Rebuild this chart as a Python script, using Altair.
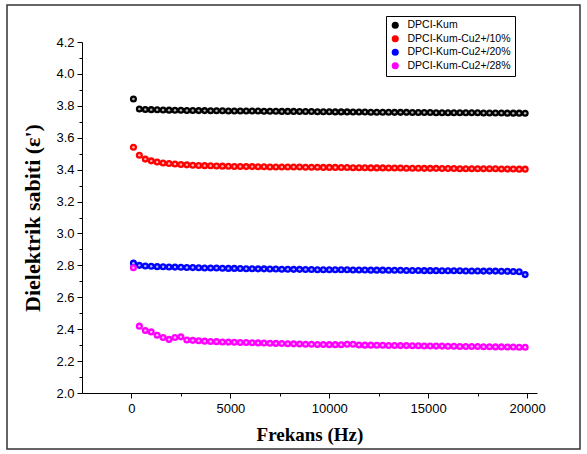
import altair as alt
import pandas as pd

series_names = ["DPCI-Kum", "DPCI-Kum-Cu2+/10%", "DPCI-Kum-Cu2+/20%", "DPCI-Kum-Cu2+/28%"]
series_colors = ["#000000", "#ff0000", "#0000ff", "#ff00ff"]

freq = [100, 400, 700, 1000, 1300, 1600, 1900, 2200, 2500, 2800,
        3100, 3400, 3700, 4000, 4300, 4600, 4900, 5200, 5500, 5800,
        6100, 6400, 6700, 7000, 7300, 7600, 7900, 8200, 8500, 8800,
        9100, 9400, 9700, 10000, 10300, 10600, 10900, 11200, 11500, 11800,
        12100, 12400, 12700, 13000, 13300, 13600, 13900, 14200, 14500, 14800,
        15100, 15400, 15700, 16000, 16300, 16600, 16900, 17200, 17500, 17800,
        18100, 18400, 18700, 19000, 19300, 19600, 19900]

kum = [3.843, 3.780, 3.777, 3.776, 3.775, 3.774, 3.773, 3.772, 3.772, 3.771,
       3.771, 3.770, 3.770, 3.769, 3.769, 3.769, 3.768, 3.768, 3.768, 3.767,
       3.767, 3.767, 3.766, 3.766, 3.766, 3.765, 3.765, 3.765, 3.764, 3.764,
       3.764, 3.763, 3.763, 3.763, 3.762, 3.762, 3.762, 3.761, 3.761, 3.761,
       3.760, 3.760, 3.760, 3.760, 3.759, 3.759, 3.759, 3.758, 3.758, 3.758,
       3.758, 3.757, 3.757, 3.757, 3.757, 3.756, 3.756, 3.756, 3.756, 3.755,
       3.755, 3.755, 3.755, 3.754, 3.754, 3.754, 3.753]

cu10 = [3.540, 3.490, 3.466, 3.455, 3.448, 3.442, 3.438, 3.435, 3.432, 3.430,
        3.428, 3.426, 3.425, 3.424, 3.423, 3.422, 3.421, 3.420, 3.420, 3.419,
        3.419, 3.418, 3.418, 3.417, 3.417, 3.417, 3.416, 3.416, 3.416, 3.415,
        3.415, 3.415, 3.414, 3.414, 3.414, 3.413, 3.413, 3.412, 3.412, 3.412,
        3.411, 3.411, 3.411, 3.410, 3.410, 3.410, 3.409, 3.409, 3.409, 3.408,
        3.408, 3.408, 3.407, 3.407, 3.407, 3.406, 3.406, 3.406, 3.405, 3.405,
        3.405, 3.405, 3.404, 3.404, 3.404, 3.403, 3.403]

cu20 = [2.814, 2.800, 2.796, 2.794, 2.792, 2.791, 2.790, 2.789, 2.788, 2.787,
        2.786, 2.785, 2.784, 2.783, 2.783, 2.782, 2.781, 2.781, 2.780, 2.779,
        2.779, 2.778, 2.778, 2.777, 2.777, 2.776, 2.776, 2.775, 2.775, 2.774,
        2.774, 2.773, 2.773, 2.773, 2.772, 2.772, 2.772, 2.771, 2.771, 2.771,
        2.770, 2.770, 2.770, 2.769, 2.769, 2.769, 2.768, 2.768, 2.768, 2.767,
        2.767, 2.767, 2.766, 2.766, 2.766, 2.766, 2.765, 2.765, 2.765, 2.764,
        2.764, 2.764, 2.763, 2.763, 2.762, 2.760, 2.742]

cu28 = [2.785, 2.419, 2.392, 2.383, 2.362, 2.348, 2.336, 2.348, 2.352, 2.332,
        2.330, 2.327, 2.325, 2.323, 2.322, 2.320, 2.319, 2.318, 2.317, 2.316,
        2.315, 2.314, 2.313, 2.312, 2.311, 2.310, 2.309, 2.308, 2.307, 2.306,
        2.305, 2.304, 2.304, 2.303, 2.303, 2.302, 2.306, 2.305, 2.301, 2.300,
        2.300, 2.299, 2.299, 2.298, 2.298, 2.297, 2.297, 2.296, 2.296, 2.295,
        2.295, 2.294, 2.294, 2.293, 2.293, 2.292, 2.292, 2.291, 2.291, 2.290,
        2.290, 2.289, 2.289, 2.288, 2.288, 2.287, 2.287]

x_ticks = [0, 2500, 5000, 7500, 10000, 12500, 15000, 17500, 20000]
y_ticks = [2.0, 2.1, 2.2, 2.3, 2.4, 2.5, 2.6, 2.7, 2.8, 2.9, 3.0, 3.1, 3.2,
           3.3, 3.4, 3.5, 3.6, 3.7, 3.8, 3.9, 4.0, 4.1, 4.2]

rows = []
for name, vals in zip(series_names, [kum, cu10, cu20, cu28]):
    for f, v in zip(freq, vals):
        rows.append({"series": name, "freq": f, "eps": v})
df = pd.DataFrame(rows)

xscale = alt.Scale(domain=[-2500, 20500], nice=False, zero=False)
yscale = alt.Scale(domain=[2.0, 4.2], nice=False, zero=False)

xaxis = alt.Axis(
    values=x_ticks,
    labelExpr="datum.value % 5000 == 0 ? format(datum.value, 'd') : ''",
    tickSize={"condition": {"test": "datum.value % 5000 == 0", "value": 5}, "value": 3},
    labelPadding=4,
    titlePadding=10,
    titleFontSize=19,
    grid=False,
)
yaxis = alt.Axis(
    values=y_ticks,
    labelExpr="round(datum.value * 10) % 2 == 0 ? format(datum.value, '.1f') : ''",
    tickSize={"condition": {"test": "round(datum.value * 10) % 2 == 0", "value": 5}, "value": 3},
    labelPadding=3,
    titlePadding=11,
    titleFontSize=22,
    grid=False,
)

X = alt.X("freq:Q", scale=xscale, axis=xaxis, title="Frekans (Hz)")
Y = alt.Y("eps:Q", scale=yscale, axis=yaxis, title="Dielektrik sabiti (ε')")

base = alt.Chart(df)

points = base.mark_circle(size=50, opacity=1).encode(
    x=X,
    y=Y,
    color=alt.Color(
        "series:N",
        scale=alt.Scale(domain=series_names, range=series_colors),
        sort=series_names,
        legend=alt.Legend(
            orient="none",
            legendX=304,
            legendY=-26,
            title=None,
            labelFont="Liberation Sans",
            labelFontSize=10.5,
            labelColor="black",
            symbolType="circle",
            symbolSize=50,
            symbolStrokeWidth=0,
            symbolOpacity=1,
            strokeColor="black",
            fillColor="white",
            padding=4,
            rowPadding=2.5,
            labelOffset=7,
            labelLimit=300,
        ),
    ),
)

highlight = base.mark_circle(size=6, color="white", opacity=0.7).encode(x=X, y=Y)

frame = alt.Chart(pd.DataFrame({"k": [0]})).mark_rect(
    fill="white", fillOpacity=0, stroke="#333333", strokeWidth=1.5
).encode(
    x=alt.value(-75), x2=alt.value(498), y=alt.value(-37), y2=alt.value(407)
)

chart = (
    alt.layer(frame, points, highlight)
    .properties(
        width=455,
        height=351,
        autosize="none",
        padding={"left": 82, "top": 42, "right": 50, "bottom": 61},
        background="white",
    )
    .configure_view(stroke=None)
    .configure_axis(
        labelFont="Liberation Sans",
        labelFontSize=13,
        labelColor="black",
        titleFont="Liberation Serif",
        titleFontWeight="bold",
        titleColor="black",
        domainColor="black",
        domainWidth=1,
        tickColor="black",
        tickWidth=1,
    )
)

chart.save("out.html", embed_options={"renderer": "svg", "actions": False})
